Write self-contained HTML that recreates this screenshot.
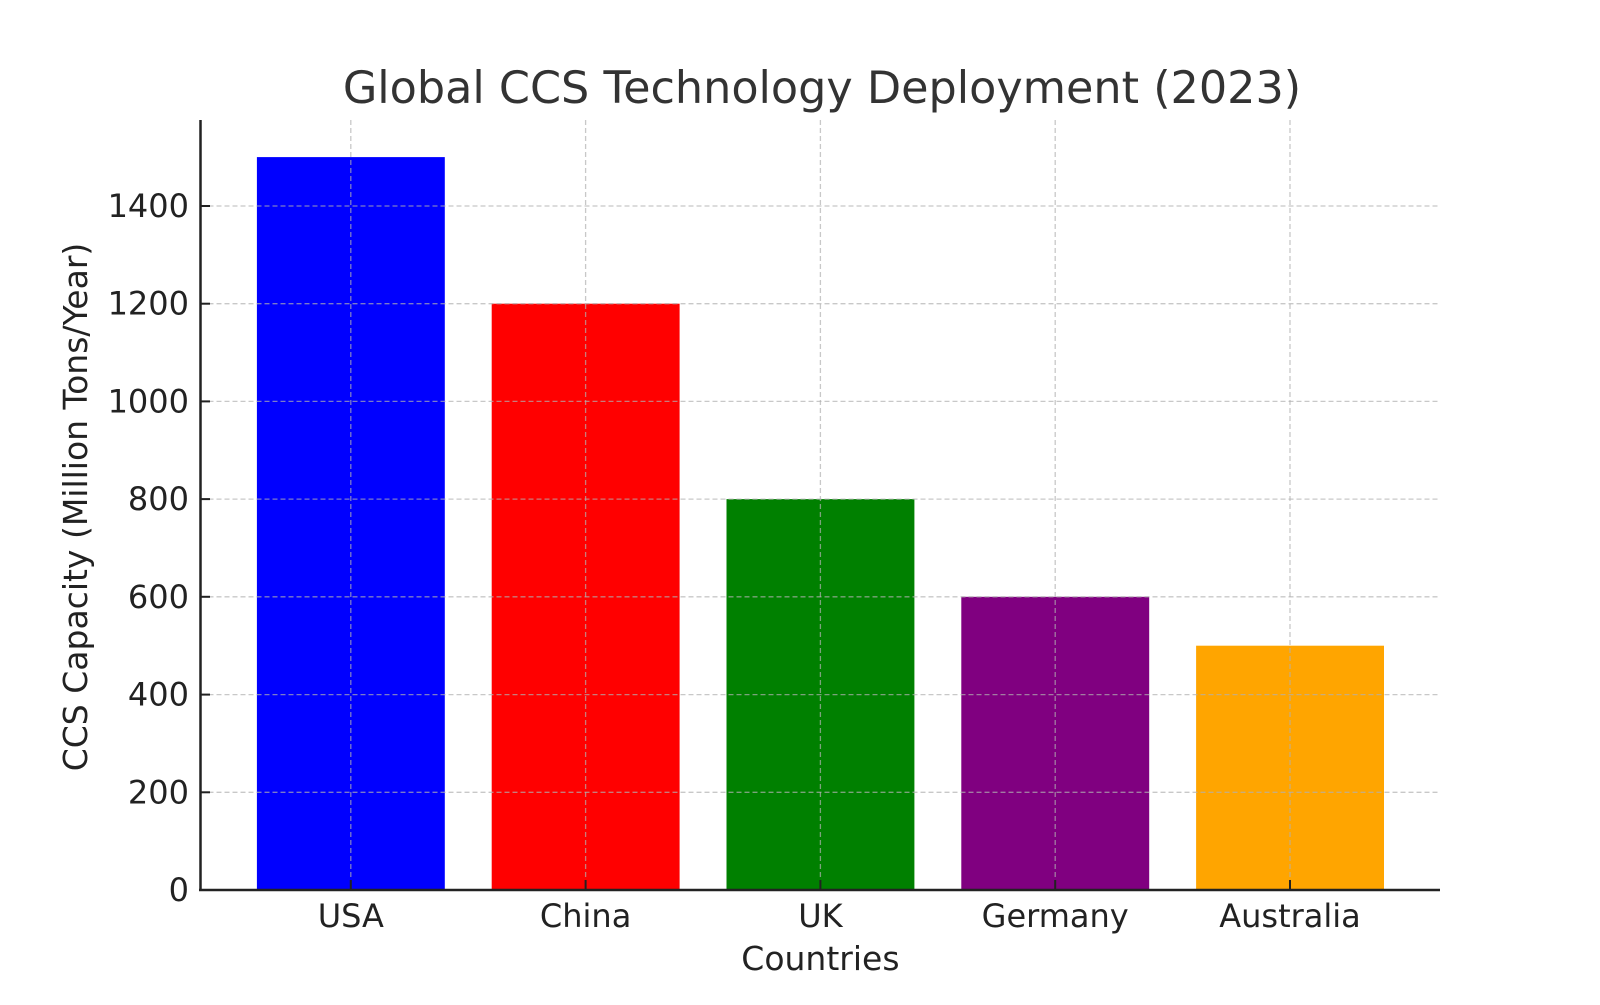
<!DOCTYPE html>
<html><head><meta charset="utf-8"><style>body{margin:0;background:#fff}</style></head>
<body>
<svg width="1600" height="1000" xmlns="http://www.w3.org/2000/svg" font-family="DejaVu Sans, sans-serif">
<rect width="1600" height="1000" fill="#fff"/>
<g>
<rect x="256.9" y="157.1" width="187.9" height="732.9" fill="#0000ff"/>
<rect x="491.7" y="303.7" width="187.9" height="586.3" fill="#ff0000"/>
<rect x="726.5" y="499.1" width="187.9" height="390.9" fill="#008000"/>
<rect x="961.3" y="596.8" width="187.9" height="293.2" fill="#800080"/>
<rect x="1196.1" y="645.7" width="187.9" height="244.3" fill="#ffa500"/>
</g>
<g stroke="#b0b0b0" stroke-opacity="0.7" stroke-width="1.3" stroke-dasharray="5,3" fill="none">
<line x1="200.5" x2="1440" y1="792.3" y2="792.3"/>
<line x1="200.5" x2="1440" y1="694.6" y2="694.6"/>
<line x1="200.5" x2="1440" y1="596.8" y2="596.8"/>
<line x1="200.5" x2="1440" y1="499.1" y2="499.1"/>
<line x1="200.5" x2="1440" y1="401.4" y2="401.4"/>
<line x1="200.5" x2="1440" y1="303.7" y2="303.7"/>
<line x1="200.5" x2="1440" y1="206" y2="206"/>
<line x1="350.8" x2="350.8" y1="120" y2="890"/>
<line x1="585.6" x2="585.6" y1="120" y2="890"/>
<line x1="820.4" x2="820.4" y1="120" y2="890"/>
<line x1="1055.2" x2="1055.2" y1="120" y2="890"/>
<line x1="1290" x2="1290" y1="120" y2="890"/>
</g>
<g stroke="#222" stroke-width="2.5">
<line x1="200.5" y1="120" x2="200.5" y2="891"/>
<line x1="199" y1="890" x2="1440" y2="890"/>
</g>
<g stroke="#222" stroke-width="2">
<line x1="200.5" x2="210" y1="792.3" y2="792.3"/><line x1="200.5" x2="210" y1="694.6" y2="694.6"/>
<line x1="200.5" x2="210" y1="596.8" y2="596.8"/><line x1="200.5" x2="210" y1="499.1" y2="499.1"/>
<line x1="200.5" x2="210" y1="401.4" y2="401.4"/><line x1="200.5" x2="210" y1="303.7" y2="303.7"/>
<line x1="200.5" x2="210" y1="206" y2="206"/>
<line x1="350.8" x2="350.8" y1="880" y2="890"/><line x1="585.6" x2="585.6" y1="880" y2="890"/>
<line x1="820.4" x2="820.4" y1="880" y2="890"/><line x1="1055.2" x2="1055.2" y1="880" y2="890"/>
<line x1="1290" x2="1290" y1="880" y2="890"/>
</g>
<g fill="#222" font-size="32" text-anchor="end">
<text x="189" y="901">0</text><text x="189" y="803.3">200</text><text x="189" y="705.6">400</text>
<text x="189" y="607.8">600</text><text x="189" y="510.1">800</text><text x="189" y="412.4">1000</text>
<text x="189" y="314.7">1200</text><text x="189" y="217">1400</text>
</g>
<g fill="#222" font-size="32" text-anchor="middle">
<text x="350.8" y="927">USA</text><text x="585.6" y="927">China</text><text x="820.4" y="927">UK</text>
<text x="1055.2" y="927">Germany</text><text x="1290" y="927">Australia</text>
</g>
<g fill="#222" font-size="33" text-anchor="middle">
<text x="820.4" y="970">Countries</text>
<text transform="translate(87,507) rotate(-90)">CCS Capacity (Million Tons/Year)</text>
</g>
<text x="822" y="103" text-anchor="middle" font-size="44.5" fill="#333">Global CCS Technology Deployment (2023)</text>
</svg>
</body></html>
